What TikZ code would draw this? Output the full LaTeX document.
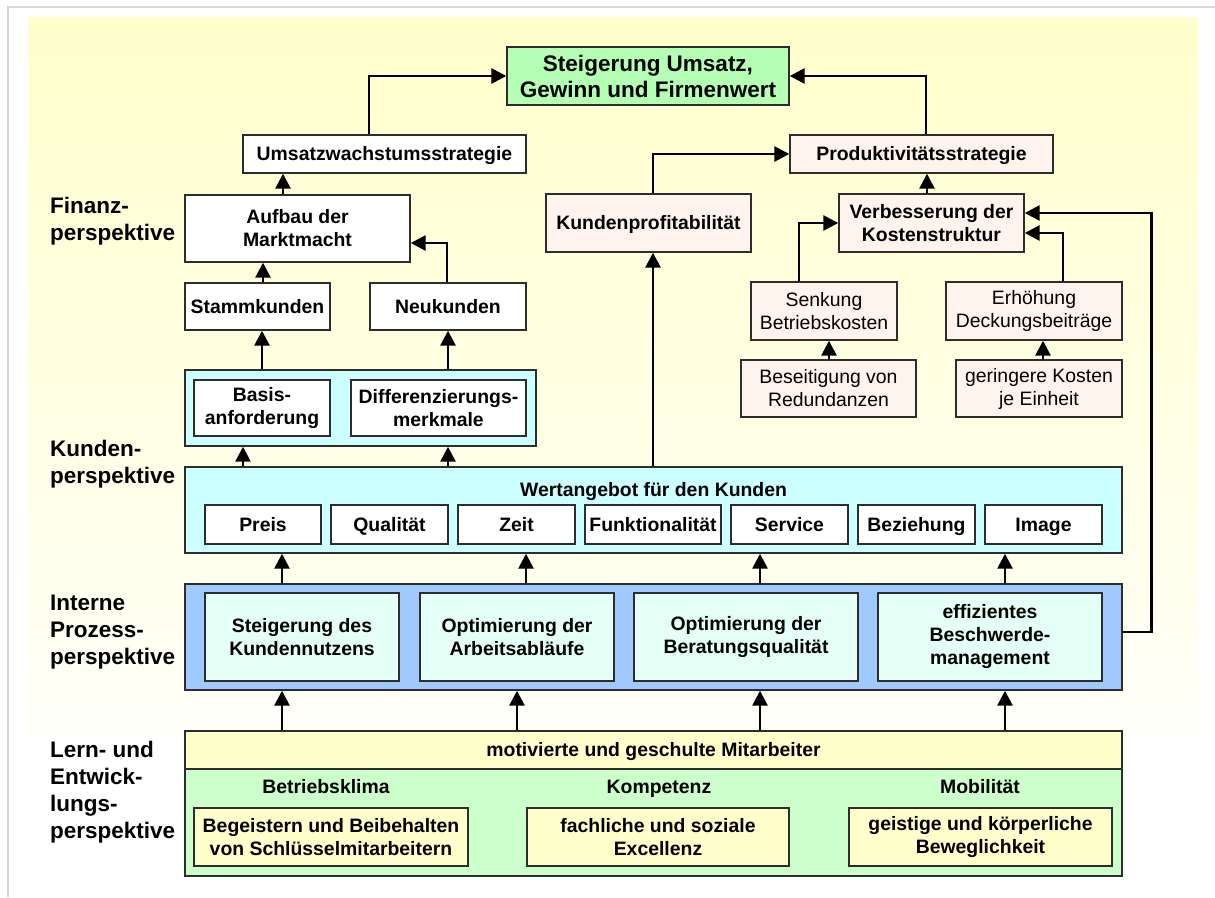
\documentclass[tikz,border=0pt]{standalone}
\usepackage{fontspec}
\setmainfont{Liberation Sans}
\usetikzlibrary{arrows.meta,calc}
\definecolor{bgtop}{RGB}{255,255,204}
\definecolor{bgbot}{RGB}{255,255,248}
\definecolor{framegray}{RGB}{215,215,215}
\definecolor{titlegreen}{RGB}{180,255,180}
\definecolor{pinkfill}{RGB}{255,243,237}
\definecolor{cyanfill}{RGB}{204,255,255}
\definecolor{bluefill}{RGB}{160,202,255}
\definecolor{mintfill}{RGB}{228,255,246}
\definecolor{yellowfill}{RGB}{255,255,204}
\definecolor{greenfill}{RGB}{204,255,204}
\definecolor{edge}{RGB}{45,45,45}
\tikzset{
  bx/.style={draw=edge, line width=1.4pt, inner sep=0pt, align=center,
    font=\fontsize{19.4}{23}\selectfont\bfseries},
  rx/.style={bx, font=\fontsize{19.4}{23}\selectfont},
  one/.style={text height=16pt, text depth=2.1pt},
  arr/.style={line width=2.7pt, -{Triangle[length=15pt,width=15pt]}},
  lbl/.style={anchor=west, inner sep=0pt, align=left,
    font=\fontsize{22.5}{27}\selectfont\bfseries},
  hd/.style={inner sep=0pt, one,
    font=\fontsize{19.4}{23}\selectfont\bfseries}
}
\begin{document}
\begin{tikzpicture}[x=1pt,y=-1pt]
\useasboundingbox (0,0) rectangle (1215,897);
\fill[white] (0,0) rectangle (1215,897);
\shade[top color=bgtop,bottom color=bgbot] (28,17) rectangle (1198,733);
\draw[framegray,line width=1.5pt] (8,897) -- (8,7) -- (1215,7);

% left labels
\node[lbl] (lf) at (50,221) {Finanz-\\perspektive};
\node[lbl] (lk) at (50,464.5) {Kunden-\\perspektive};
\node[lbl] (li) at (50,632) {Interne\\Prozess-\\perspektive};
\node[lbl] (ll) at (50,792) {Lern- und\\Entwick-\\lungs-\\perspektive};

% financial
\node[bx, fill=titlegreen, minimum width=282pt, minimum height=58pt,
  font=\fontsize{22.5}{26}\selectfont\bfseries] (title) at (648,76) {Steigerung Umsatz,\\Gewinn und Firmenwert};
\node[bx, one, fill=white, minimum width=283pt, minimum height=38pt] (us) at (384.5,154) {Umsatzwachstumsstrategie};
\node[bx, one, fill=pinkfill, minimum width=263pt, minimum height=38pt] (prod) at (921.5,154) {Produktivitätsstrategie};
\node[bx, fill=white, minimum width=225pt, minimum height=67pt] (auf) at (297.5,228.5) {Aufbau der\\Marktmacht};
\node[bx, one, fill=pinkfill, minimum width=205pt, minimum height=58pt] (kp) at (648.5,223) {Kundenprofitabilität};
\node[bx, fill=pinkfill, minimum width=185pt, minimum height=58pt] (verb) at (931.5,223) {Verbesserung der\\Kostenstruktur};
\node[bx, one, fill=white, minimum width=145pt, minimum height=47pt] (stamm) at (257.5,306.5) {Stammkunden};
\node[bx, one, fill=white, minimum width=156pt, minimum height=47pt] (neu) at (448,306.5) {Neukunden};
\node[rx, fill=pinkfill, minimum width=146pt, minimum height=58pt] (senk) at (824,311) {Senkung\\Betriebskosten};
\node[rx, fill=pinkfill, minimum width=176pt, minimum height=58pt] (erh) at (1034,311) {Erhöhung\\Deckungsbeiträge};
\node[rx, fill=pinkfill, minimum width=175pt, minimum height=57pt] (bes) at (828.5,388.5) {Beseitigung von\\Redundanzen};
\node[rx, fill=pinkfill, minimum width=166pt, minimum height=57pt] (ger) at (1039,388.5) {geringere Kosten\\je Einheit};

% customer
\node[bx, fill=cyanfill, minimum width=351pt, minimum height=76pt] (kc) at (360.5,408) {};
\node[bx, fill=white, minimum width=136pt, minimum height=56pt] (bas) at (262,408) {Basis-\\anforderung};
\node[bx, fill=white, minimum width=175pt, minimum height=56pt] (dif) at (438.5,408) {Differenzierungs-\\merkmale};
\node[bx, fill=cyanfill, minimum width=937pt, minimum height=86pt] (wa) at (653.5,510) {};
\node[hd] (wat) at (653.5,490) {Wertangebot für den Kunden};
\node[bx, one, fill=white, minimum width=116pt, minimum height=39pt] (v1) at (263,524.5) {Preis};
\node[bx, one, fill=white, minimum width=117pt, minimum height=39pt] (v2) at (389.5,524.5) {Qualität};
\node[bx, one, fill=white, minimum width=117pt, minimum height=39pt] (v3) at (516.5,524.5) {Zeit};
\node[bx, one, fill=white, minimum width=136pt, minimum height=39pt] (v4) at (653,524.5) {Funktionalität};
\node[bx, one, fill=white, minimum width=117pt, minimum height=39pt] (v5) at (789.5,524.5) {Service};
\node[bx, one, fill=white, minimum width=117pt, minimum height=39pt] (v6) at (916.5,524.5) {Beziehung};
\node[bx, one, fill=white, minimum width=117pt, minimum height=39pt] (v7) at (1043.5,524.5) {Image};

% internal processes
\node[bx, fill=bluefill, minimum width=937pt, minimum height=106pt] (ip) at (653.5,637) {};
\node[bx, fill=mintfill, minimum width=194pt, minimum height=88pt] (p1) at (302,637) {Steigerung des\\Kundennutzens};
\node[bx, fill=mintfill, minimum width=194pt, minimum height=88pt] (p2) at (517,637) {Optimierung der\\Arbeitsabläufe};
\node[bx, fill=mintfill, minimum width=224pt, minimum height=88pt] (p3) at (746,637) {Optimierung der\\Beratungsqualität};
\node[bx, fill=mintfill, minimum width=224pt, minimum height=88pt] (p4) at (990,637) {effizientes\\Beschwerde-\\management};

% learning
\node[bx, fill=greenfill, minimum width=937pt, minimum height=107pt] (lg) at (653.5,822.5) {};
\node[bx, one, fill=yellowfill, minimum width=937pt, minimum height=38pt] (ly) at (653.5,750) {motivierte und geschulte Mitarbeiter};
\node[hd] (c1) at (326,787) {Betriebsklima};
\node[hd] (c2) at (659,787) {Kompetenz};
\node[hd] (c3) at (980,787) {Mobilität};
\node[bx, fill=yellowfill, minimum width=274pt, minimum height=58pt] (l1) at (331,837) {Begeistern und Beibehalten\\von Schlüsselmitarbeitern};
\node[bx, fill=yellowfill, minimum width=262pt, minimum height=58pt] (l2) at (658,837) {fachliche und soziale\\Excellenz};
\node[bx, fill=yellowfill, minimum width=263pt, minimum height=58pt] (l3) at (980.5,837) {geistige und körperliche\\Beweglichkeit};

% connectors
\draw[arr] ([xshift=-15.5pt]us.north) |- (title.west);
\draw[arr] ([xshift=4.5pt]prod.north) |- (title.east);
\draw[arr] ([xshift=-14.5pt]auf.north) -- ([xshift=-101.5pt]us.south);
\draw[arr] ([xshift=4.5pt]kp.north) |- (prod.west);
\draw[arr] ([xshift=-4.5pt]verb.north) -- ([xshift=5.5pt]prod.south);
\draw[arr] ([xshift=5.5pt]stamm.north) -- ([xshift=-34.5pt]auf.south);
\draw[arr] ([xshift=-1pt]neu.north) |- ([yshift=-14.5pt]auf.east);
\draw[arr] ([xshift=-25pt]senk.north) |- (verb.west);
\draw[arr] ([xshift=29pt]erh.north) |- ([yshift=-10pt]verb.east);
\draw[arr] ([xshift=0.5pt]bes.north) -- ([xshift=5pt]senk.south);
\draw[arr] ([xshift=4pt]ger.north) -- ([xshift=9pt]erh.south);
\draw[arr] ([xshift=-0.5pt]wa.north) -- ([xshift=4.5pt]kp.south);
\draw[arr] ([xshift=-98.5pt]kc.north) -- ([xshift=4.5pt]stamm.south);
\draw[arr] ([xshift=87.5pt]kc.north) -- (neu.south);
\draw[arr] ([xshift=-410.5pt]wa.north) -- ([xshift=-117.5pt]kc.south);
\draw[arr] ([xshift=-205.5pt]wa.north) -- ([xshift=87.5pt]kc.south);
\foreach \s in {-371.5,-127.5,106.5,351.5}
  \draw[arr] ([xshift=\s pt]ip.north) -- ([xshift=\s pt]wa.south);
\foreach \s in {-371.5,-136.5,106.5,351.5}
  \draw[arr] ([xshift=\s pt]ly.north) -- ([xshift=\s pt]ip.south);
\draw[arr] ([yshift=5pt]ip.east) -- ++(29,0) |- ([yshift=10pt]verb.east);
\end{tikzpicture}
\end{document}
